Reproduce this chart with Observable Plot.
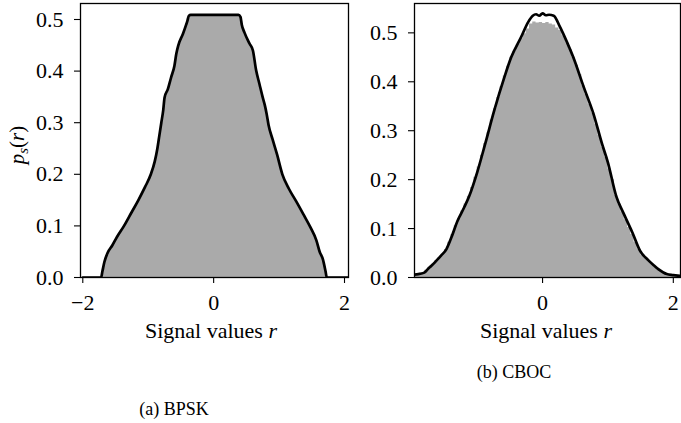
<!DOCTYPE html>
<html><head><meta charset="utf-8">
<script src="https://cdn.jsdelivr.net/npm/d3@7"></script>
<script src="https://cdn.jsdelivr.net/npm/@observablehq/plot@0.6"></script>
<style>
body{margin:0;background:#fff;}
#fig{position:relative;width:681px;height:423px;overflow:hidden;background:#fff;font-family:"Liberation Serif",serif;}
#fig > svg{position:absolute;}
</style></head><body><div id="fig"></div>
<script>
// ---- data ----
// (a) BPSK: density curve (the gray fill sits under it)
const bpskX = [-2.00,-1.72,-1.70,-1.67,-1.62,-1.55,-1.48,-1.37,-1.26,-1.15,-1.05,-0.96,-0.90,-0.86,-0.83,-0.80,-0.77,-0.75,-0.70,-0.65,-0.60,-0.57,-0.54,-0.47,-0.42,-0.40,-0.38,-0.35,0.00,0.38,0.41,0.43,0.47,0.55,0.60,0.65,0.70,0.75,0.78,0.81,0.84,0.90,0.97,1.05,1.15,1.26,1.37,1.48,1.57,1.62,1.67,1.71,1.73,2.06];
const bpskY = [0,0,0.012,0.030,0.048,0.062,0.078,0.100,0.125,0.150,0.175,0.200,0.225,0.250,0.275,0.300,0.325,0.349,0.365,0.388,0.410,0.434,0.450,0.472,0.490,0.498,0.507,0.509,0.509,0.509,0.505,0.490,0.475,0.453,0.440,0.401,0.375,0.349,0.335,0.317,0.295,0.268,0.238,0.200,0.172,0.148,0.123,0.097,0.072,0.050,0.035,0.012,0,0];

// (b) CBOC: density curve
const cbocLineX = [-1.96,-1.90,-1.81,-1.75,-1.70,-1.62,-1.55,-1.47,-1.40,-1.30,-1.20,-1.12,-1.00,-0.88,-0.74,-0.585,-0.48,-0.33,-0.22,-0.15,-0.10,-0.05,0.00,0.05,0.10,0.17,0.27,0.37,0.47,0.63,0.78,0.91,1.00,1.125,1.25,1.38,1.49,1.62,1.70,1.77,1.90,2.00,2.11];
const cbocLineY = [0.006,0.007,0.010,0.018,0.024,0.035,0.045,0.058,0.080,0.116,0.143,0.167,0.215,0.272,0.341,0.409,0.450,0.491,0.522,0.535,0.538,0.535,0.540,0.536,0.537,0.535,0.511,0.482,0.450,0.389,0.334,0.273,0.235,0.167,0.128,0.090,0.055,0.035,0.025,0.017,0.007,0.005,0.003];

// (b) CBOC: histogram, bins of width 0.05 starting at -2.00
const cbocBinStart = -2.0;
const cbocBinWidth = 0.05;
const cbocHist = [0.004,0.006,0.008,0.010,0.015,0.021,0.027,0.034,0.041,0.048,
  0.057,0.072,0.088,0.106,0.120,0.136,0.150,0.166,0.184,0.205,
  0.226,0.250,0.274,0.296,0.322,0.345,0.368,0.390,0.412,0.432,
  0.450,0.462,0.476,0.488,0.498,0.508,0.518,0.522,0.520,0.521,
  0.519,0.521,0.518,0.516,0.510,0.505,0.494,0.480,0.466,0.450,
  0.434,0.415,0.392,0.374,0.354,0.336,0.313,0.290,0.266,0.246,
  0.222,0.200,0.168,0.150,0.134,0.118,0.102,0.088,0.072,0.058,
  0.046,0.040,0.034,0.027,0.021,0.016,0.011,0.008,0.006,0.005,
  0.004,0.003];

const yTicks = [0, 0.1, 0.2, 0.3, 0.4, 0.5];
const leftXTicks = [-2, 0, 2];
const rightXTicks = [0, 2];
const xLabelText = "Signal values ";
const xLabelVar = "r";
const captionA = "(a) BPSK";
const captionB = "(b) CBOC";

// ---- build tables ----
const bpsk = bpskX.map((x, i) => ({x, y: bpskY[i]}));
const cbocLine = cbocLineX.map((x, i) => ({x, y: cbocLineY[i]}));
// histogram outline as step points (left edge of each bin, plus the closing right edge)
const cbocSteps = cbocHist.map((v, i) => ({x: cbocBinStart + i * cbocBinWidth, y: v}));
cbocSteps.push({x: cbocBinStart + cbocHist.length * cbocBinWidth, y: cbocHist[cbocHist.length - 1]});

const GRAY = "#aaaaaa";
const FONT = "'Liberation Serif', serif";
const style = {fontFamily: FONT, fontSize: "22px", color: "black", background: "transparent", overflow: "visible"};
const fmtX = d3.format("d");
const fmtY = d3.format(".1f");

const left = Plot.plot({
  width: 360, height: 320,
  marginLeft: 80, marginRight: 12, marginTop: 3, marginBottom: 43,
  style,
  x: {domain: [-2.035, 2.061]},
  y: {domain: [0, 0.531]},
  marks: [
    Plot.areaY(bpsk, {x: "x", y: "y", fill: GRAY, curve: "monotone-x", clip: true}),
    Plot.lineY(bpsk, {x: "x", y: "y", stroke: "black", strokeWidth: 2.7, curve: "monotone-x", strokeLinejoin: "round", clip: true}),
    Plot.frame({stroke: "black", strokeWidth: 1.3}),
    Plot.axisX({ticks: leftXTicks, tickFormat: fmtX, tickSize: 6, tickPadding: 11, label: null, strokeWidth: 1.1}),
    Plot.axisY({ticks: yTicks, tickFormat: fmtY, tickSize: 6, tickPadding: 11, label: null, strokeWidth: 1.1})
  ]
});
left.style.left = "0px"; left.style.top = "0px";

const right = Plot.plot({
  width: 341, height: 320,
  marginLeft: 74, marginRight: 1, marginTop: 3, marginBottom: 43,
  style,
  x: {domain: [-1.959, 2.11]},
  y: {domain: [0, 0.56]},
  marks: [
    Plot.areaY(cbocSteps, {x: "x", y: "y", fill: GRAY, curve: "step-after", clip: true}),
    Plot.lineY(cbocLine, {x: "x", y: "y", stroke: "black", strokeWidth: 2.7, curve: "monotone-x", strokeLinejoin: "round", clip: true}),
    Plot.frame({stroke: "black", strokeWidth: 1.3}),
    Plot.axisX({ticks: rightXTicks, tickFormat: fmtX, tickSize: 6, tickPadding: 11, label: null, strokeWidth: 1.1}),
    Plot.axisY({ticks: yTicks, tickFormat: fmtY, tickSize: 6, tickPadding: 11, label: null, strokeWidth: 1.1})
  ]
});
right.style.left = "340px"; right.style.top = "0px";

const fig = document.getElementById("fig");
fig.appendChild(left);
fig.appendChild(right);

// ---- text overlay (axis labels and captions) ----
const ov = d3.select(fig).append("svg")
  .attr("width", 681).attr("height", 423)
  .style("left", "0px").style("top", "0px")
  .style("font-family", FONT)
  .attr("fill", "black");

function xLabel(cx) {
  const t = ov.append("text").attr("x", cx).attr("y", 338).attr("text-anchor", "middle").attr("font-size", 22);
  t.append("tspan").text(xLabelText);
  t.append("tspan").attr("font-style", "italic").text(xLabelVar);
}
xLabel(211);
xLabel(546);

const yl = ov.append("text")
  .attr("transform", "translate(24,145) rotate(-90)")
  .attr("text-anchor", "middle").attr("font-size", 21);
yl.append("tspan").attr("font-style", "italic").text("p");
yl.append("tspan").attr("font-style", "italic").attr("font-size", 15).attr("dy", 4).text("s");
yl.append("tspan").attr("dy", -4).text("(");
yl.append("tspan").attr("font-style", "italic").text("r");
yl.append("tspan").text(")");

ov.append("text").attr("x", 174).attr("y", 414.5).attr("text-anchor", "middle").attr("font-size", 18).text(captionA);
ov.append("text").attr("x", 514).attr("y", 377.5).attr("text-anchor", "middle").attr("font-size", 18).text(captionB);
</script>
</body></html>
